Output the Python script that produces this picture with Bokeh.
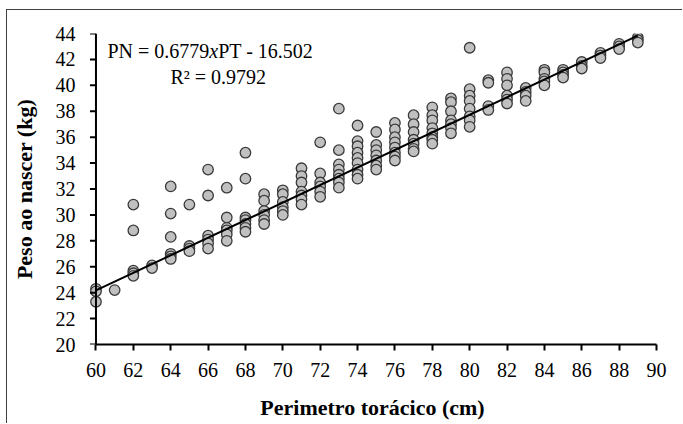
from bokeh.plotting import figure
from bokeh.models import Range1d, FixedTicker, Label, Span
from bokeh.embed import file_html
from bokeh.resources import INLINE

# ---- data ----
pt = ([60]*3 + [61] + [62]*5 + [63]*2 + [64]*6 + [65]*4 + [66]*6 + [67]*6 + [68]*7 +
      [69]*6 + [70]*6 + [71]*7 + [72]*6 + [73]*8 + [74]*9 + [75]*7 + [76]*8 + [77]*7 +
      [78]*8 + [79]*7 + [80]*8 + [81]*4 + [82]*6 + [83]*4 + [84]*5 + [85]*4 + [86]*3 +
      [87]*3 + [88]*3 + [89]*3)
pn = [24.3, 24.1, 23.3,
      24.2,
      30.8, 28.8, 25.7, 25.5, 25.3,
      26.1, 25.9,
      32.2, 30.1, 28.3, 27.0, 26.8, 26.6,
      30.8, 27.6, 27.4, 27.2,
      33.5, 31.5, 28.4, 28.1, 27.8, 27.4,
      32.1, 29.8, 29.0, 28.8, 28.5, 28.0,
      34.8, 32.8, 29.8, 29.6, 29.3, 29.0, 28.7,
      31.6, 31.1, 30.3, 30.0, 29.6, 29.3,
      31.9, 31.6, 31.0, 30.6, 30.3, 30.0,
      33.6, 33.0, 32.5, 31.8, 31.5, 31.2, 30.8,
      35.6, 33.2, 32.5, 32.2, 31.8, 31.4,
      38.2, 35.0, 33.9, 33.5, 33.1, 32.8, 32.5, 32.1,
      36.9, 35.7, 35.3, 34.8, 34.4, 34.0, 33.5, 33.1, 32.8,
      36.4, 35.4, 35.0, 34.6, 34.2, 33.8, 33.5,
      37.1, 36.6, 36.0, 35.6, 35.2, 34.8, 34.5, 34.2,
      37.7, 37.0, 36.4, 35.8, 35.5, 35.1, 34.9,
      38.3, 37.7, 37.3, 36.7, 36.3, 36.0, 35.8, 35.5,
      39.0, 38.7, 38.0, 37.3, 37.0, 36.7, 36.3,
      42.9, 39.7, 39.2, 38.8, 38.2, 37.6, 37.3, 36.8,
      40.4, 40.2, 38.4, 38.1,
      41.0, 40.5, 40.0, 39.2, 38.9, 38.6,
      39.8, 39.5, 39.2, 38.8,
      41.2, 41.0, 40.5, 40.3, 40.0,
      41.2, 41.0, 40.8, 40.6,
      41.8, 41.5, 41.3,
      42.5, 42.3, 42.1,
      43.2, 43.0, 42.8,
      43.7, 43.5, 43.3]

slope = 0.6779
intercept = -16.502
fit_x = [60, 89]
x_ticks = list(range(60, 91, 2))
y_ticks = list(range(20, 45, 2))

eq_part1 = "PN = 0.6779"
eq_part2 = "x"
eq_part3 = "PT - 16.502"
r2_text = "R\u00b2 = 0.9792"
x_title = "Perimetro torácico (cm)"
y_title = "Peso ao nascer (kg)"

# canvas placed inside a thin top/left picture border (drawn as a CSS shadow)
OFF_X, OFF_Y = 7, 10
W, H = 683 - OFF_X, 424 - OFF_Y
X_MIN, X_MAX = 60, 90
X0 = 59.6                      # a little room left of 60 so the first markers are not clipped
L, R, T, B = 81, 27, 33 - OFF_Y, 80
FONT = "Liberation Serif"

p = figure(width=W, height=H, output_backend="svg", toolbar_location=None,
           x_range=Range1d(X0, X_MAX), y_range=Range1d(20, 44),
           min_border_left=L, min_border_right=R, min_border_top=T, min_border_bottom=B,
           styles={"margin-left": f"{OFF_X}px", "margin-top": f"{OFF_Y}px",
                   "box-shadow": "-1px -1px 0 0 #404040"})
p.outline_line_color = None
p.xgrid.visible = False
p.ygrid.visible = False

fw = W - L - R
fh = H - T - B
ppu = fw / (X_MAX - X0)        # pixels per x unit
def px_x(px):
    return X0 + (px - OFF_X - L) / ppu
def px_y(py):
    return 20 + (H - B - (py - OFF_Y)) * 24.0 / fh

# scatter
p.scatter(pt, pn, size=10.5, fill_color="#c0c0c0", line_color="#3a3a3a", line_width=1.3)
# regression line
p.line(fit_x, [slope * v + intercept for v in fit_x], line_color="black", line_width=2)

for ax in (p.xaxis[0], p.yaxis[0]):
    ax.axis_line_width = 2
    ax.axis_line_color = "black"
    ax.major_tick_line_width = 2
    ax.major_tick_line_color = "black"
    ax.major_tick_out = 6
    ax.major_tick_in = 0
    ax.minor_tick_line_color = None
    ax.major_label_text_font = FONT
    ax.major_label_text_font_size = "20px"
    ax.major_label_text_color = "black"
    ax.axis_label_text_font = FONT
    ax.axis_label_text_font_style = "bold"
    ax.axis_label_text_font_size = "22px"
    ax.axis_label_text_color = "black"

p.xaxis.ticker = FixedTicker(ticks=x_ticks)
p.yaxis.ticker = FixedTicker(ticks=y_ticks)
p.xaxis.bounds = (X_MIN, X_MAX)
p.xaxis.axis_label = x_title
p.yaxis.axis_label = y_title
p.xaxis.major_label_standoff = 12
p.xaxis.axis_label_standoff = 15

# y axis: labels/title from the axis, line and ticks drawn at x = 60
p.yaxis.axis_line_color = None
p.yaxis.major_tick_line_color = None
p.yaxis.major_tick_out = 0
p.yaxis.major_label_standoff = 13
p.yaxis.axis_label_standoff = 16
p.add_layout(Span(location=X_MIN, dimension="height", line_color="black", line_width=2))
tick_len = 6 / ppu
p.segment(x0=[X_MIN - tick_len] * len(y_ticks), y0=y_ticks,
          x1=[X_MIN] * len(y_ticks), y1=y_ticks, line_color="black", line_width=2)

common = dict(text_font=FONT, text_font_size="20px", text_color="black",
              text_baseline="alphabetic", text_align="left")
p.add_layout(Label(x=px_x(107), y=px_y(50), text=eq_part1, **common))
p.add_layout(Label(x=px_x(208.8), y=px_y(50), text=eq_part2, text_font_style="italic", **common))
p.add_layout(Label(x=px_x(217.7), y=px_y(50), text=eq_part3, **common))
p.add_layout(Label(x=px_x(170), y=px_y(76), text=r2_text, **common))

open("out.html", "w").write(file_html(p, INLINE))
